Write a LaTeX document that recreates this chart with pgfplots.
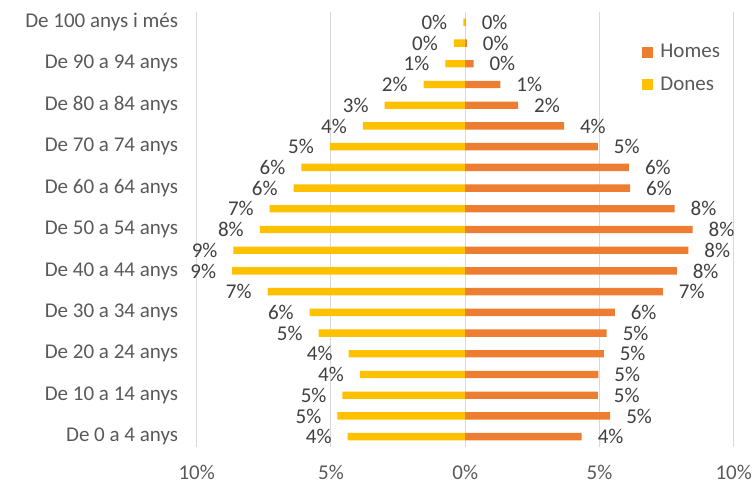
\documentclass[border=0pt]{standalone}
\usepackage{pgfplots}
\pgfplotsset{compat=1.18}
\usepackage{pgfplotstable}
\usepackage{fontspec}
\setmainfont{Carlito}

\definecolor{homes}{HTML}{ED7D31}
\definecolor{dones}{HTML}{FFC000}
\definecolor{gridgray}{HTML}{D9D9D9}
\definecolor{labelgray}{HTML}{595959}
\definecolor{valgray}{HTML}{404040}

% Percentatge de població per grup d'edat (0 = de 0 a 4 anys ... 20 = 100 anys i més)
\pgfplotstableread{
grup homes dones
0  4.34 4.38
1  5.40 4.76
2  4.94 4.57
3  4.96 3.92
4  5.16 4.34
5  5.27 5.46
6  5.57 5.79
7  7.36 7.36
8  7.88 8.68
9  8.31 8.63
10 8.47 7.65
11 7.80 7.28
12 6.14 6.39
13 6.10 6.10
14 4.94 5.04
15 3.68 3.81
16 1.97 3.00
17 1.31 1.55
18 0.31 0.74
19 0.06 0.42
20 0.02 0.07
}\piramide

\begin{document}
\begin{tikzpicture}
\begin{axis}[
  scale only axis,
  width=268.5pt, height=217.5pt,
  xbar, bar width=3.7pt, bar shift=0pt,
  xmin=-10, xmax=10, ymin=-0.5, ymax=20.5,
  clip=false,
  axis line style={draw=none},
  major tick length=0pt,
  xmajorgrids, ymajorgrids=false,
  grid style={color=gridgray, line width=0.5pt},
  xtick={-10,-5,0,5,10},
  xticklabels={10\%,5\%,0\%,5\%,10\%},
  ytick={0,2,...,20},
  yticklabels={De 0 a 4 anys, De 10 a 14 anys, De 20 a 24 anys, De 30 a 34 anys,
    De 40 a 44 anys, De 50 a 54 anys, De 60 a 64 anys, De 70 a 74 anys,
    De 80 a 84 anys, De 90 a 94 anys, De 100 anys i més},
  tick label style={font=\fontsize{10.5}{12}\selectfont, text=labelgray},
  xticklabel style={yshift=-5.5pt},
  yticklabel style={xshift=-5.8pt},
  /pgf/number format/assume math mode=true,
  nodes near coords={\pgfmathprintnumber[fixed,precision=0]{\pgfplotspointmeta}\%},
  every node near coord/.append style={font=\fontsize{10.5}{12}\selectfont, text=valgray},
  legend style={draw=none, fill=none, at={(axis cs:6.36,19.35)}, anchor=north west,
    font=\fontsize{10.5}{12}\selectfont, text=labelgray, row sep=4pt},
  legend cell align=left,
  legend image code/.code={\fill[#1] (0pt,-2.75pt) rectangle (5.5pt,2.75pt); \path (7pt,0pt);},
]
% homes a la dreta, etiqueta després de l'extrem de la barra
\addplot[fill=homes, draw=none,
  nodes near coords align={anchor=west},
  every node near coord/.append style={xshift=4.5pt}]
  table[x=homes, y=grup, point meta=\thisrow{homes}] {\piramide};
% dones a l'esquerra, amb valors negatius
\addplot[fill=dones, draw=none,
  nodes near coords align={anchor=east},
  every node near coord/.append style={xshift=-4.5pt}]
  table[x expr=-\thisrow{dones}, y=grup, point meta=\thisrow{dones}] {\piramide};
\legend{Homes, Dones}
\end{axis}
\pgfresetboundingbox
\path ([shift={(-98.35pt,-18.5pt)}]current axis.south west) rectangle ++(377pt,242pt);
\end{tikzpicture}
\end{document}
